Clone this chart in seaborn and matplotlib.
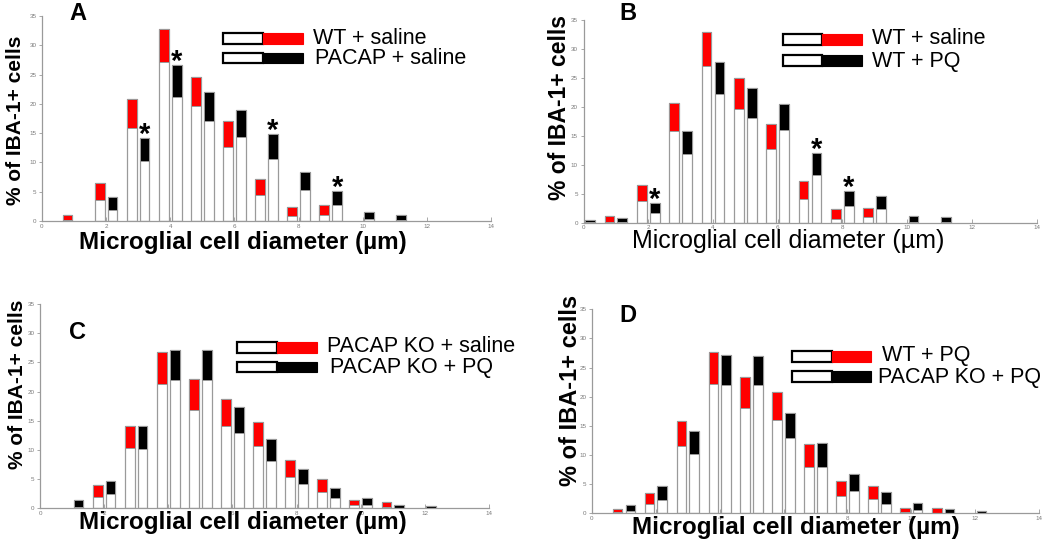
import numpy as np
import pandas as pd
import matplotlib
matplotlib.use("Agg")
import matplotlib.pyplot as plt
from matplotlib.patches import Rectangle
import seaborn as sns

nan = np.nan
bins = np.arange(13)  # diameter bins (µm)

# ---- Panel A: WT + saline (red) vs PACAP + saline (black)
A_red_low = [nan, 0.2, 3.6, 15.9, 27.1, 19.7, 12.6, 4.4, 0.8, 1.1, nan, nan, nan]
A_red_high = [nan, 1.1, 6.5, 20.8, 32.7, 24.6, 17.1, 7.2, 2.4, 2.7, nan, nan, nan]
A_blk_low = [nan, nan, 1.9, 10.2, 21.2, 17.0, 14.4, 10.6, 5.3, 2.7, 0.4, 0.1, nan]
A_blk_high = [nan, nan, 4.1, 14.2, 26.7, 22.0, 18.9, 14.8, 8.4, 5.1, 1.6, 1.1, nan]
A_star_bins = [3, 4, 7, 9]

# ---- Panel B: WT + saline (red) vs WT + PQ (black)
B_red_low = [nan, 0.17, 3.7, 15.8, 27.1, 19.7, 12.7, 4.1, 0.6, 0.9, nan, nan, nan]
B_red_high = [nan, 1.1, 6.5, 20.6, 32.9, 24.9, 17.0, 7.2, 2.3, 2.6, nan, nan, nan]
B_blk_low = [0.1, 0.05, 1.6, 11.8, 22.2, 18.1, 16.0, 8.3, 2.8, 2.3, 0.2, 0.05, nan]
B_blk_high = [0.5, 0.75, 3.4, 15.9, 27.7, 23.3, 20.5, 12.0, 5.5, 4.6, 1.15, 0.9, nan]
B_star_bins = [2, 7, 8]

# ---- Panel C: PACAP KO + saline (red) vs PACAP KO + PQ (black)
C_red_low = [nan, nan, 1.94, 10.3, 21.3, 16.9, 14.1, 10.7, 5.4, 2.8, 0.5, 0.2, nan]
C_red_high = [nan, nan, 4.06, 14.06, 26.8, 22.1, 18.7, 14.7, 8.3, 5.1, 1.5, 1.1, nan]
C_blk_low = [nan, 0.3, 2.4, 10.17, 22.0, 22.0, 12.9, 8.1, 4.2, 1.7, 0.6, 0.05, 0.05]
C_blk_high = [nan, 1.43, 4.7, 14.06, 27.1, 27.1, 17.3, 11.9, 6.8, 3.5, 1.7, 0.6, 0.4]
C_star_bins = []

# ---- Panel D: WT + PQ (red) vs PACAP KO + PQ (black)
D_red_low = [nan, 0.17, 1.6, 11.55, 22.2, 18.1, 15.95, 8.0, 3.0, 2.46, 0.17, 0.1, nan]
D_red_high = [nan, 0.69, 3.54, 15.9, 27.7, 23.3, 20.8, 11.9, 5.6, 4.75, 0.97, 0.86, nan]
D_blk_low = [nan, 0.34, 2.34, 10.2, 22.0, 21.96, 13.0, 7.9, 3.9, 1.6, 0.57, 0.05, 0.02]
D_blk_high = [nan, 1.37, 4.63, 14.2, 27.1, 27.0, 17.2, 12.0, 6.8, 3.66, 1.83, 0.69, 0.34]
D_star_bins = []

legend_A = ["WT + saline", "PACAP + saline"]
legend_B = ["WT + saline", "WT + PQ"]
legend_C = ["PACAP KO + saline", "PACAP KO + PQ"]
legend_D = ["WT + PQ", "PACAP KO + PQ"]

xlabel = "Microglial cell diameter (\u00b5m)"
ylabel = "% of IBA-1+ cells"
x_ticks = [0, 2, 4, 6, 8, 10, 12, 14]
y_ticks = [0, 5, 10, 15, 20, 25, 30, 35]

# ---------------------------------------------------------------------------
sns.set_theme(style="ticks")
plt.rcParams["font.family"] = ["Liberation Sans", "DejaVu Sans"]
plt.rcParams["text.color"] = "black"

W, H = 1050, 550
GREY = "#9a9a9a"
RED = "#ff0000"
BLACK = "#000000"
BAR_W = 0.3
OFFSET = 0.2

fig = plt.figure(figsize=(W / 100, H / 100), dpi=100)


def px_axes(l, t, r, b):
    return fig.add_axes([l / W, 1 - b / H, (r - l) / W, (b - t) / H])


def native_width(xs):
    u = np.unique(np.asarray(xs, dtype=float))
    return float(np.min(np.diff(u))) if len(u) > 1 else 1.0


def build(red_low, red_high, blk_low, blk_high):
    rows = []
    for k in bins:
        if not np.isnan(red_high[k]):
            rows.append((k - OFFSET, red_low[k], red_high[k], "red"))
        if not np.isnan(blk_high[k]):
            rows.append((k + OFFSET, blk_low[k], blk_high[k], "black"))
    df = pd.DataFrame(rows, columns=["x", "low", "high", "grp"])
    df = df.sort_values("x").reset_index(drop=True)
    df["seg"] = df["high"] - df["low"]
    return df


def draw_panel(ax, red_low, red_high, blk_low, blk_high, star_bins):
    df = build(red_low, red_high, blk_low, blk_high)
    # white base bars (full height)
    sns.barplot(data=df, x="x", y="high", native_scale=True, orient="x",
                width=BAR_W / native_width(df["x"]), color="white",
                saturation=1, edgecolor=GREY, linewidth=0.9,
                errorbar=None, ax=ax)
    # coloured top segments
    for grp, col in [("red", RED), ("black", BLACK)]:
        sub = df[df["grp"] == grp].reset_index(drop=True)
        if sub.empty:
            continue
        sns.barplot(data=sub, x="x", y="seg", bottom=sub["low"].to_numpy(),
                    native_scale=True, orient="x",
                    width=BAR_W / native_width(sub["x"]), color=col,
                    saturation=1, edgecolor=GREY, linewidth=0.7,
                    errorbar=None, ax=ax)
    for k in star_bins:
        ax.annotate("*", xy=(k + OFFSET, blk_high[k]), xytext=(0, -3.5),
                    textcoords="offset points", ha="center", va="baseline",
                    fontsize=21, fontweight="bold", color="black")
    ax.set_xlim(0, 14)
    ax.set_ylim(0, 35)
    ax.set_xticks(x_ticks)
    ax.set_xticklabels([str(t) for t in x_ticks])
    ax.set_yticks(y_ticks)
    ax.set_yticklabels([str(t) for t in y_ticks])
    sns.despine(ax=ax)
    for s in ("left", "bottom"):
        ax.spines[s].set_color(GREY)
        ax.spines[s].set_linewidth(0.9)
    ax.tick_params(axis="x", direction="in", length=3, width=0.6, color=GREY,
                   labelsize=4.5, labelcolor="#7a7a7a", pad=2)
    ax.tick_params(axis="y", direction="out", length=2.5, width=0.6, color=GREY,
                   labelsize=4.5, labelcolor="#7a7a7a", pad=1.5)
    ax.set_xlabel("")
    ax.set_ylabel("")


def labels(ax, xbold, xfs, xc, yc, yfs, yx, yy):
    ax.set_xlabel(xlabel, fontsize=xfs, fontweight="bold" if xbold else "normal",
                  color="black")
    ax.xaxis.set_label_coords(xc, yc)
    ax.xaxis.label.set_verticalalignment("center")
    ax.set_ylabel(ylabel, fontsize=yfs, fontweight="bold", color="black")
    ax.yaxis.set_label_coords(yx, yy)
    ax.yaxis.label.set_verticalalignment("center")


def legend(x0, x1, x2, rows, fs=15.5):
    for (yt, yb, col, txt, tx, ty) in rows:
        fig.add_artist(Rectangle((x0 / W, 1 - yb / H), (x1 - x0) / W, (yb - yt) / H,
                                 transform=fig.transFigure, facecolor="white",
                                 edgecolor="black", linewidth=1.6))
        fig.add_artist(Rectangle((x1 / W, 1 - yb / H), (x2 - x1) / W, (yb - yt) / H,
                                 transform=fig.transFigure, facecolor=col,
                                 edgecolor=col, linewidth=0.8))
        fig.text(tx / W, 1 - ty / H, txt, fontsize=fs, ha="left", va="center",
                 color="black")


axA = px_axes(42, 16, 491, 221)
axB = px_axes(583.5, 20, 1036.5, 222.7)
axC = px_axes(40, 304, 489, 508.3)
axD = px_axes(592, 309.3, 1039, 513.3)

draw_panel(axA, A_red_low, A_red_high, A_blk_low, A_blk_high, A_star_bins)
draw_panel(axB, B_red_low, B_red_high, B_blk_low, B_blk_high, B_star_bins)
draw_panel(axC, C_red_low, C_red_high, C_blk_low, C_blk_high, C_star_bins)
draw_panel(axD, D_red_low, D_red_high, D_blk_low, D_blk_high, D_star_bins)

labels(axA, True, 17.5, 0.448, -0.107, 15, -0.060, 0.49)
labels(axB, False, 18, 0.452, -0.09, 16.5, -0.052, 0.566)
labels(axC, True, 17.5, 0.452, -0.07, 15, -0.051, 0.608)
labels(axD, True, 17.5, 0.456, -0.072, 17, -0.047, 0.60)

for letter, (cx, cy) in zip("ABCD", [(77.5, 13.4), (628, 13.4), (77.5, 332.5), (627.5, 316)]):
    fig.text(cx / W, 1 - cy / H, letter, fontsize=17, fontweight="bold",
             ha="center", va="center", color="black")

legend(223.3, 263.3, 302.7, [(33.3, 44.3, RED, legend_A[0], 313, 38),
                             (53.3, 63.3, BLACK, legend_A[1], 315, 59)])
legend(782.7, 821.7, 861.7, [(34, 45, RED, legend_B[0], 871.7, 39),
                             (55, 66, BLACK, legend_B[1], 871.7, 61)])
legend(237.3, 276.7, 316.7, [(341.7, 352.7, RED, legend_C[0], 327, 346),
                             (361.7, 371.7, BLACK, legend_C[1], 330, 368)])
legend(792.3, 831.7, 871, [(351, 362.3, RED, legend_D[0], 881.7, 355.5),
                           (371, 381.7, BLACK, legend_D[1], 878.3, 378)])

fig.savefig("out.png", dpi=100)
